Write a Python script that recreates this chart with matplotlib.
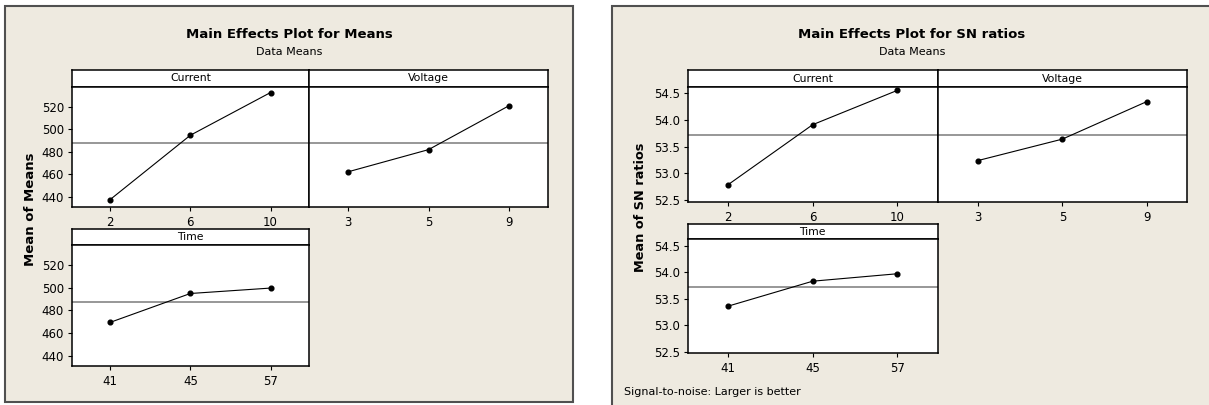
import matplotlib.pyplot as plt
from matplotlib.patches import Rectangle

W, H = 1209, 405
BEIGE = "#EEEAE0"

# factor levels (x tick labels)
current_levels = ["2", "6", "10"]
voltage_levels = ["3", "5", "9"]
time_levels = ["41", "45", "57"]

# main effects for means
means_current = [437.6, 494.8, 532.8]
means_voltage = [462.2, 482.0, 521.2]
means_time = [469.4, 495.0, 499.8]
means_grand = 487.5
means_yticks = [440, 460, 480, 500, 520]

# main effects for SN ratios
sn_current = [52.79, 53.91, 54.55]
sn_voltage = [53.24, 53.64, 54.34]
sn_time = [53.36, 53.83, 53.97]
sn_grand = 53.72
sn_yticks = [52.5, 53.0, 53.5, 54.0, 54.5]


def px_axes(fig, x0, y0, x1, y1):
    return fig.add_axes([x0 / W, 1 - y1 / H, (x1 - x0) / W, (y1 - y0) / H])


def draw_facet(fig, box, header_top, name, levels, values, grand,
               ylim, yticks, fmt, show_y):
    x0, y0, x1, y1 = box
    hax = px_axes(fig, x0, header_top, x1, y0)
    hax.set_xticks([])
    hax.set_yticks([])
    hax.set_facecolor("white")
    for sp in hax.spines.values():
        sp.set_linewidth(1.1)
        sp.set_color("black")
    hax.text(0.5, 0.5, name, ha="center", va="center", fontsize=7.8,
             transform=hax.transAxes)

    ax = px_axes(fig, x0, y0, x1, y1)
    ax.set_facecolor("white")
    ax.axhline(grand, color="#7a7a7a", lw=1.1, zorder=1)
    ax.plot(range(len(values)), values, color="black", lw=0.8,
            marker="o", ms=3.4, zorder=3)
    ax.set_xlim(-0.48, len(values) - 0.52)
    ax.set_ylim(ylim)
    ax.set_xticks(range(len(levels)), levels)
    if show_y:
        ax.set_yticks(yticks, [fmt.format(v) for v in yticks])
    else:
        ax.set_yticks([])
    ax.tick_params(direction="out", length=3, width=0.8, labelsize=8.5,
                   pad=2.5, colors="black")
    ax.tick_params(axis="x", pad=3.5)
    for sp in ax.spines.values():
        sp.set_linewidth(1.1)
        sp.set_color("black")
    return ax


fig = plt.figure(figsize=(W / 100, H / 100), dpi=100)
fig.patch.set_facecolor("white")

# panel frames (behind the axes)
fig.patches.append(Rectangle((4.6 / W, 1 - 401.7 / H), (573 - 4.6) / W,
                             (401.7 - 5.8) / H, transform=fig.transFigure,
                             facecolor=BEIGE, edgecolor="#505050", lw=1.5,
                             zorder=-5))
fig.patches.append(Rectangle((612 / W, 1 - 420 / H), (1230 - 612) / W,
                             (420 - 5.8) / H, transform=fig.transFigure,
                             facecolor=BEIGE, edgecolor="#505050", lw=1.5,
                             zorder=-5))

# ---- left: means ----
means_ylim = (430.7, 538.0)
draw_facet(fig, (71.7, 86.7, 309, 207.3), 70, "Current", current_levels,
           means_current, means_grand, means_ylim, means_yticks, "{:.0f}", True)
draw_facet(fig, (309, 86.7, 548, 207.3), 70, "Voltage", voltage_levels,
           means_voltage, means_grand, means_ylim, means_yticks, "{:.0f}", False)
draw_facet(fig, (71.7, 245, 309, 366), 229.3, "Time", time_levels,
           means_time, means_grand, means_ylim, means_yticks, "{:.0f}", True)

fig.text(289 / W, 1 - 35 / H, "Main Effects Plot for Means", ha="center",
         va="center", fontsize=9.5, fontweight="bold")
fig.text(289 / W, 1 - 52 / H, "Data Means", ha="center", va="center",
         fontsize=8)
fig.text(30 / W, 1 - 209 / H, "Mean of Means", rotation=90, ha="center",
         va="center", fontsize=9.5, fontweight="bold")

# ---- right: SN ratios ----
sn_ylim = (52.47, 54.62)
draw_facet(fig, (687.7, 86.7, 937.7, 201.7), 70.3, "Current", current_levels,
           sn_current, sn_grand, sn_ylim, sn_yticks, "{:.1f}", True)
draw_facet(fig, (937.7, 86.7, 1187, 201.7), 70.3, "Voltage", voltage_levels,
           sn_voltage, sn_grand, sn_ylim, sn_yticks, "{:.1f}", False)
draw_facet(fig, (687.7, 239.3, 937.7, 353.3), 224, "Time", time_levels,
           sn_time, sn_grand, sn_ylim, sn_yticks, "{:.1f}", True)

fig.text(912 / W, 1 - 35 / H, "Main Effects Plot for SN ratios", ha="center",
         va="center", fontsize=9.5, fontweight="bold")
fig.text(912 / W, 1 - 52 / H, "Data Means", ha="center", va="center",
         fontsize=8)
fig.text(640 / W, 1 - 207 / H, "Mean of SN ratios", rotation=90, ha="center",
         va="center", fontsize=9.3, fontweight="bold")
fig.text(624 / W, 1 - 392 / H, "Signal-to-noise: Larger is better", ha="left",
         va="center", fontsize=8)

fig.savefig("out.png", dpi=100)
